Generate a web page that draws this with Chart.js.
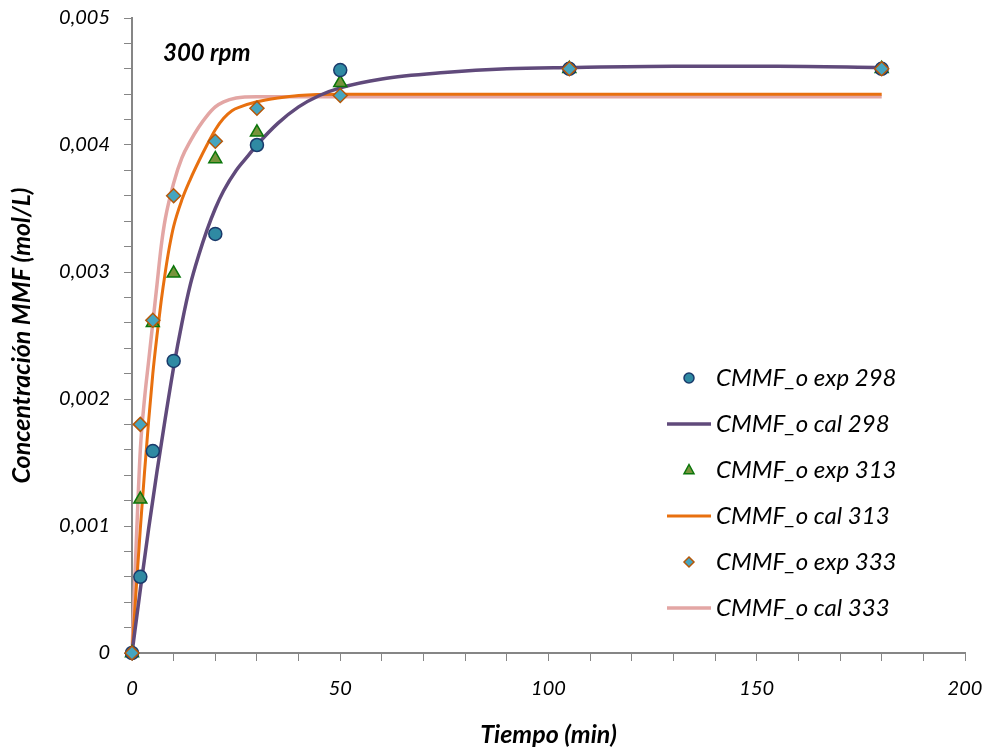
<!DOCTYPE html>
<html>
<head>
<meta charset="utf-8">
<script src="https://cdn.jsdelivr.net/npm/chart.js@4.4.0/dist/chart.umd.min.js"></script>
<style>
    html, body { margin: 0; padding: 0; background: #fff; }
    #wrap { width: 990px; height: 751px; }
</style>
</head>
<body>
<div id="wrap"><canvas id="concChart" width="990" height="751"></canvas></div>
<script>
// experimental points (time in min, concentration in mol/L)
const tExp = [0, 2, 5, 10, 20, 30, 50, 105, 180];
const exp298 = [0, 0.0006, 0.00159, 0.0023, 0.0033, 0.0040, 0.00459, 0.0046, 0.0046];
const exp313 = [0, 0.00121, 0.0026, 0.00299, 0.00389, 0.0041, 0.00449, 0.0046, 0.0046];
const exp333 = [0, 0.0018, 0.00262, 0.0036, 0.00403, 0.00429, 0.00439, 0.0046, 0.0046];

// calculated curves
const tCal298 = [0, 2, 4, 6, 8, 10, 12, 14, 16, 18, 20, 22, 25, 28, 30, 35, 40, 45, 50, 60, 75, 90, 105, 130, 155, 180];
const cal298 = [0, 0.0005, 0.00098, 0.00143, 0.00185, 0.00225, 0.0026, 0.0029, 0.00313, 0.00333, 0.0035, 0.00364, 0.0038, 0.00392, 0.004, 0.00417, 0.0043, 0.00439, 0.00445, 0.00452, 0.00457, 0.0046, 0.00461, 0.00462, 0.00462, 0.00461];
const tCal313 = [0, 1, 2, 3, 4, 5, 6, 7, 8, 9, 10, 12, 14, 16, 18, 20, 22, 24, 26, 30, 35, 40, 50, 180];
const cal313 = [0, 0.0005, 0.00098, 0.00142, 0.00183, 0.0022, 0.0025, 0.00277, 0.003, 0.0032, 0.00336, 0.00357, 0.00373, 0.00387, 0.004, 0.00412, 0.00421, 0.00427, 0.0043, 0.00434, 0.00437, 0.00439, 0.0044, 0.0044];
const tCal333 = [0, 1, 2, 3, 4, 5, 6, 7, 8, 10, 12, 14, 16, 18, 20, 22, 25, 30, 180];
const cal333 = [0, 0.00085, 0.0016, 0.002, 0.0023, 0.0026, 0.0029, 0.0032, 0.00342, 0.0037, 0.0039, 0.00403, 0.00414, 0.00423, 0.0043, 0.00434, 0.00437, 0.00438, 0.00438];

const labels = ['CMMF_o exp 298', 'CMMF_o cal 298', 'CMMF_o exp 313', 'CMMF_o cal 313', 'CMMF_o exp 333', 'CMMF_o cal 333'];
const yTickLabels = ['0', '0,001', '0,002', '0,003', '0,004', '0,005'];
const xTickLabels = ['0', '50', '100', '150', '200'];

const FONT = 'Lato, "Liberation Sans", sans-serif';
const AXIS_GREY = '#868686';

function pts(xs, ys) {
    return xs.map(function (x, i) { return { x: x, y: ys[i] }; });
}

function drawMarker(c, style, x, y, r) {
    c.beginPath();
    if (style === 'circle') {
        c.arc(x, y, r, 0, Math.PI * 2);
    } else if (style === 'triangle') {
        c.moveTo(x, y - r * 1.1);
        c.lineTo(x + r, y + r * 0.75);
        c.lineTo(x - r, y + r * 0.75);
        c.closePath();
    } else {
        c.moveTo(x, y - r);
        c.lineTo(x + r, y);
        c.lineTo(x, y + r);
        c.lineTo(x - r, y);
        c.closePath();
    }
    c.fill();
    c.stroke();
}

// no label overhang: the plot area is set by layout padding alone
function noOverhang(scale) {
    scale.paddingTop = 0;
    scale.paddingBottom = 0;
    scale.paddingLeft = 0;
    scale.paddingRight = 0;
}

const sideLegend = {
    id: 'sideLegend',
    afterDatasetsDraw(chart) {
        const c = chart.ctx;
        const area = chart.chartArea;
        const x0 = area.right - 277;
        const y0 = area.top + 360;
        c.save();
        chart.data.datasets.forEach(function (ds, i) {
            const y = y0 + i * 46;
            if (ds.showLine) {
                c.strokeStyle = ds.borderColor;
                c.lineWidth = ds.borderWidth;
                c.beginPath();
                c.moveTo(x0 - 21, y);
                c.lineTo(x0 + 23, y);
                c.stroke();
            } else {
                c.fillStyle = ds.backgroundColor;
                c.strokeStyle = ds.borderColor;
                c.lineWidth = 1.5;
                drawMarker(c, ds.pointStyle, x0 + 1, y, 5);
            }
            c.fillStyle = '#000';
            c.font = 'italic 24px ' + FONT;
            c.textBaseline = 'middle';
            c.textAlign = 'left';
            c.fillText(ds.label, x0 + 28, y);
        });
        c.font = 'italic bold 24px ' + FONT;
        c.fillText('300 rpm', area.left + 31, area.top + 35);
        c.restore();
    }
};

function chart() {
    const ctx = document.getElementById('concChart').getContext('2d');
    const markerBase = { showLine: false, pointBorderWidth: 1.5, clip: false, borderWidth: 1.5 };
    const lineBase = { showLine: true, pointRadius: 0, cubicInterpolationMode: 'monotone', clip: false };
    new Chart(ctx, {
        type: 'scatter',
        data: {
            datasets: [
                Object.assign({}, markerBase, {
                    label: labels[0], data: pts(tExp, exp298), pointStyle: 'circle', pointRadius: 6.5,
                    backgroundColor: '#2F8AA3', borderColor: '#1A3A6B', order: 1
                }),
                Object.assign({}, lineBase, {
                    label: labels[1], data: pts(tCal298, cal298), borderColor: '#604A7B', borderWidth: 3.5, order: 3
                }),
                Object.assign({}, markerBase, {
                    label: labels[2], data: pts(tExp, exp313), pointStyle: 'triangle', pointRadius: 7.5,
                    backgroundColor: '#77933C', borderColor: '#0B760B', order: 2
                }),
                Object.assign({}, lineBase, {
                    label: labels[3], data: pts(tCal313, cal313), borderColor: '#E8700F', borderWidth: 3, order: 3
                }),
                Object.assign({}, markerBase, {
                    label: labels[4], data: pts(tExp, exp333), pointStyle: 'rectRot', pointRadius: 7,
                    backgroundColor: '#45A5BF', borderColor: '#B65708', order: 0
                }),
                Object.assign({}, lineBase, {
                    label: labels[5], data: pts(tCal333, cal333), borderColor: '#E3A6A4', borderWidth: 3.5, order: 3
                })
            ]
        },
        options: {
            responsive: false,
            animation: false,
            devicePixelRatio: 1,
            layout: { padding: { left: 0, right: 25, top: 18, bottom: 0 } },
            plugins: {
                legend: { display: false },
                tooltip: { enabled: false }
            },
            scales: {
                x: {
                    type: 'linear',
                    min: 0,
                    max: 200,
                    afterFit: function (scale) { scale.height = 98; noOverhang(scale); },
                    border: { display: true, color: AXIS_GREY, width: 2 },
                    grid: { drawOnChartArea: false, drawTicks: true, tickLength: 8, color: AXIS_GREY },
                    ticks: {
                        stepSize: 10,
                        autoSkip: false,
                        maxRotation: 0,
                        padding: 16,
                        color: '#000',
                        font: { family: FONT, size: 20, style: 'italic' },
                        callback: function (v) { return v % 50 === 0 ? xTickLabels[v / 50] : ''; }
                    },
                    title: {
                        display: true,
                        text: 'Tiempo (min)',
                        color: '#000',
                        padding: { top: 0, bottom: 1 },
                        font: { family: FONT, size: 25, style: 'italic', weight: 'bold' }
                    }
                },
                y: {
                    type: 'linear',
                    min: 0,
                    max: 0.005,
                    afterFit: function (scale) { scale.width = 132; noOverhang(scale); },
                    border: { display: true, color: AXIS_GREY, width: 2 },
                    grid: { drawOnChartArea: false, drawTicks: true, tickLength: 8, color: AXIS_GREY },
                    ticks: {
                        stepSize: 0.0002,
                        maxTicksLimit: 100,
                        autoSkip: false,
                        padding: 14,
                        color: '#000',
                        font: { family: FONT, size: 20, style: 'italic' },
                        callback: function (v) {
                            const k = v * 1000;
                            return Math.abs(k - Math.round(k)) < 1e-6 ? yTickLabels[Math.round(k)] : '';
                        }
                    },
                    title: {
                        display: true,
                        text: 'Concentración MMF (mol/L)',
                        color: '#000',
                        padding: { top: 7, bottom: 0 },
                        font: { family: FONT, size: 25, style: 'italic', weight: 'bold' }
                    }
                }
            }
        },
        plugins: [sideLegend]
    });
}

chart();
</script>
</body>
</html>
